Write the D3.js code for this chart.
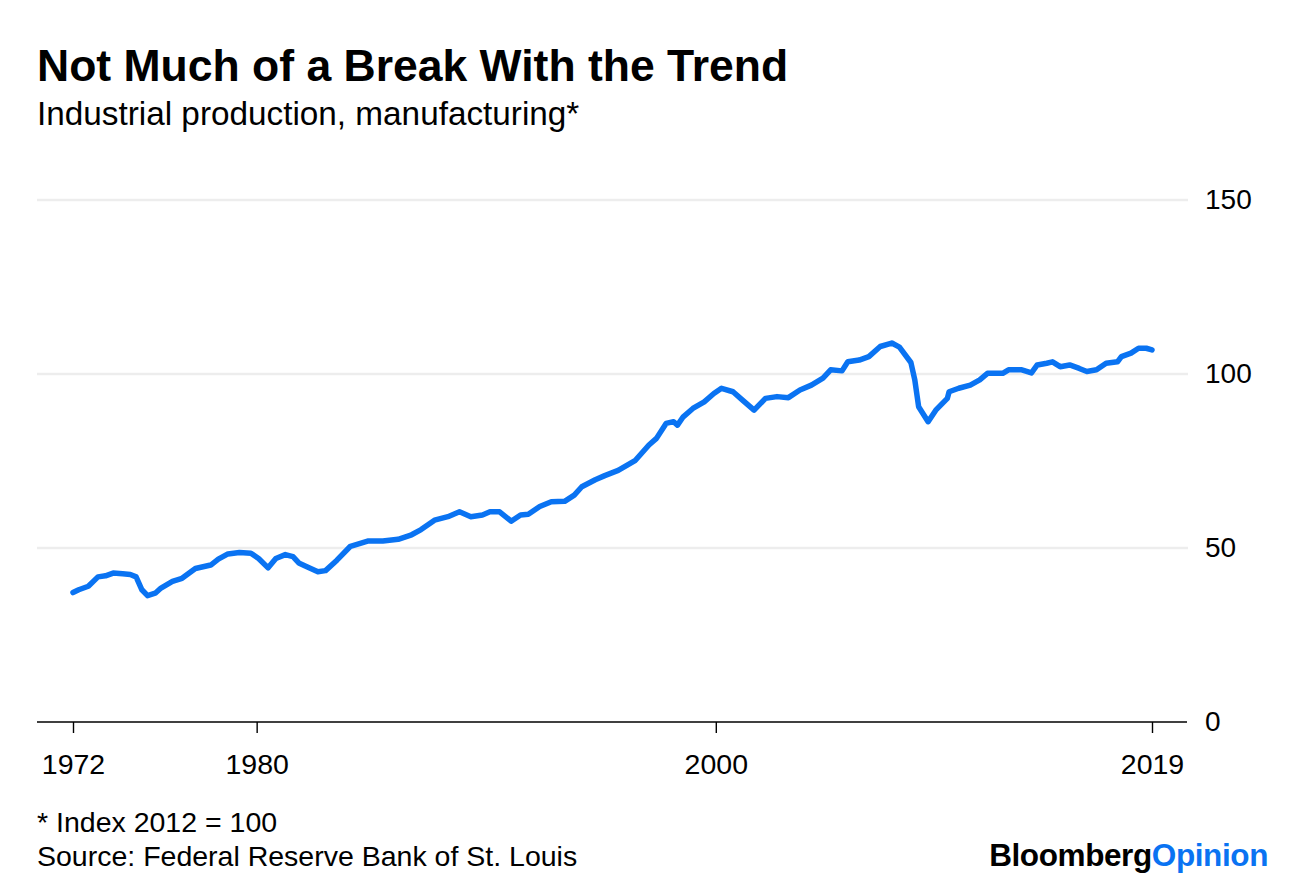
<!DOCTYPE html>
<html>
<head>
<meta charset="utf-8">
<script src="https://d3js.org/d3.v7.min.js"></script>
<style>
  body { margin: 0; background: #fff; }
  text { font-family: "Liberation Sans", Arial, sans-serif; fill: #000; }
</style>
</head>
<body>
<script>
// monthly readings (index 2012 = 100)
var dates = ["1972-01","1972-04","1972-09","1973-02","1973-06","1973-10","1974-03","1974-07","1974-10",
  "1975-01","1975-04","1975-08","1975-11","1976-05","1976-10","1977-05","1978-01","1978-05","1978-10",
  "1979-04","1979-10","1980-02","1980-07","1980-11","1981-04","1981-08","1981-11","1982-03","1982-09",
  "1983-01","1983-07","1984-02","1984-11","1985-07","1986-03","1986-10","1987-03","1987-10","1988-05",
  "1988-11","1989-05","1989-11","1990-03","1990-08","1991-02","1991-07","1991-11","1992-05","1992-11",
  "1993-06","1993-11","1994-03","1994-10","1995-03","1995-10","1996-07","1997-02","1997-06","1997-11",
  "1998-03","1998-05","1998-08","1999-01","1999-07","1999-12","2000-04","2000-10","2001-03","2001-09",
  "2002-03","2002-09","2003-03","2003-09","2004-03","2004-09","2005-01","2005-07","2005-10","2006-04",
  "2006-09","2007-03","2007-09","2008-01","2008-07","2008-09","2008-11","2009-04","2009-08","2010-02",
  "2010-03","2010-08","2011-02","2011-07","2011-11","2012-07","2012-10","2013-05","2013-10","2014-01",
  "2014-06","2014-09","2015-01","2015-06","2015-11","2016-03","2016-08","2017-01","2017-07","2017-09",
  "2018-02","2018-06","2018-10","2019-01"];
var values = [37.2,38.0,39.0,41.7,42.0,42.8,42.6,42.4,41.7,
  38.0,36.3,37.0,38.5,40.4,41.3,44.1,45.1,46.8,48.3,
  48.7,48.5,47.0,44.3,47.0,48.1,47.5,45.7,44.7,43.2,
  43.5,46.5,50.5,52.0,52.0,52.5,53.8,55.3,58.0,59.0,
  60.4,59.0,59.5,60.4,60.4,57.7,59.5,59.7,61.9,63.3,
  63.4,65.2,67.6,69.6,70.8,72.3,75.2,79.6,81.5,85.8,
  86.3,85.3,87.7,90.1,92.0,94.4,95.9,94.9,92.5,89.6,
  93.0,93.5,93.2,95.4,96.8,98.8,101.2,100.9,103.5,104.0,
  105.0,107.9,108.9,107.7,103.3,98.3,90.6,86.3,89.6,93.0,
  94.9,95.9,96.8,98.3,100.2,100.2,101.2,101.2,100.3,102.6,
  103.1,103.5,102.1,102.6,101.6,100.7,101.2,103.1,103.5,105.0,
  106.0,107.4,107.4,106.9];

// axis ticks
var xTickYears = ["1972","1980","2000","2019"];
var yTicks = [0, 50, 100, 150];

// texts
var title = "Not Much of a Break With the Trend";
var subtitle = "Industrial production, manufacturing*";
var footnote = "* Index 2012 = 100";
var source = "Source: Federal Reserve Bank of St. Louis";

window.onload = function(){
    var w = 1296, h = 888;
    var blue = "#0a73f2";

    var svg = d3.select("body")
        .append("svg")
        .attr("width", w)
        .attr("height", h);

    var parseMonth = d3.timeParse("%Y-%m");
    var parseYear = d3.timeParse("%Y");
    var series = dates.map(function(d, i){ return {date: parseMonth(d), value: values[i]}; });

    // x runs from jan 1972 to jan 2019
    var x = d3.scaleTime()
        .domain([parseYear("1972"), parseYear("2019")])
        .range([73, 1152]);

    var y = d3.scaleLinear()
        .domain([0, 150])
        .range([722, 200]);

    // title block
    svg.append("text")
        .attr("x", 37).attr("y", 81)
        .style("font-size", "44.5px")
        .style("font-weight", "bold")
        .text(title);

    svg.append("text")
        .attr("x", 37).attr("y", 125)
        .style("font-size", "33.3px")
        .text(subtitle);

    // gridlines (not at zero, the axis line sits there)
    svg.selectAll(".grid")
        .data(yTicks.filter(function(d){ return d > 0; }))
        .enter()
        .append("line")
        .attr("class", "grid")
        .attr("x1", 37).attr("x2", 1188)
        .attr("y1", function(d){ return y(d); })
        .attr("y2", function(d){ return y(d); })
        .style("stroke", "#ededed")
        .style("stroke-width", 2.5);

    // y labels on the right
    var yAxis = d3.axisRight(y)
        .tickValues(yTicks)
        .tickSize(0)
        .tickPadding(0);
    var yg = svg.append("g")
        .attr("transform", "translate(1205,0)")
        .call(yAxis);
    yg.select(".domain").remove();
    yg.selectAll("text")
        .style("font-family", "'Liberation Sans', Arial, sans-serif")
        .style("font-size", "28px")
        .attr("fill", "#000");

    // x axis at zero
    var xAxis = d3.axisBottom(x)
        .tickValues(xTickYears.map(function(d){ return parseYear(d); }))
        .tickFormat(d3.timeFormat("%Y"))
        .tickSize(11)
        .tickPadding(21);
    var xg = svg.append("g")
        .attr("transform", "translate(0," + y(0) + ")")
        .call(xAxis);
    xg.select(".domain").remove();
    xg.selectAll(".tick line")
        .attr("stroke", "#000")
        .attr("stroke-width", 1.4);
    xg.selectAll("text")
        .style("font-family", "'Liberation Sans', Arial, sans-serif")
        .style("font-size", "28.5px")
        .attr("fill", "#000");
    svg.append("line")
        .attr("x1", 37).attr("x2", 1187)
        .attr("y1", y(0)).attr("y2", y(0))
        .style("stroke", "#000")
        .style("stroke-width", 1.4);

    // the series
    var line = d3.line()
        .x(function(d){ return x(d.date); })
        .y(function(d){ return y(d.value); });
    svg.append("path")
        .datum(series)
        .attr("d", line)
        .style("fill", "none")
        .style("stroke", blue)
        .style("stroke-width", 5.5)
        .style("stroke-linejoin", "round")
        .style("stroke-linecap", "round");

    // footer
    svg.append("text")
        .attr("x", 37).attr("y", 832)
        .style("font-size", "28.5px")
        .text(footnote);
    svg.append("text")
        .attr("x", 37).attr("y", 866)
        .style("font-size", "28.5px")
        .text(source);

    var logo = svg.append("text")
        .attr("x", 1268).attr("y", 866)
        .attr("text-anchor", "end")
        .style("font-size", "31.5px")
        .style("font-weight", "bold")
        .style("letter-spacing", "-0.4px");
    logo.append("tspan").text("Bloomberg");
    logo.append("tspan").style("fill", blue).text("Opinion");
};
</script>
</body>
</html>
